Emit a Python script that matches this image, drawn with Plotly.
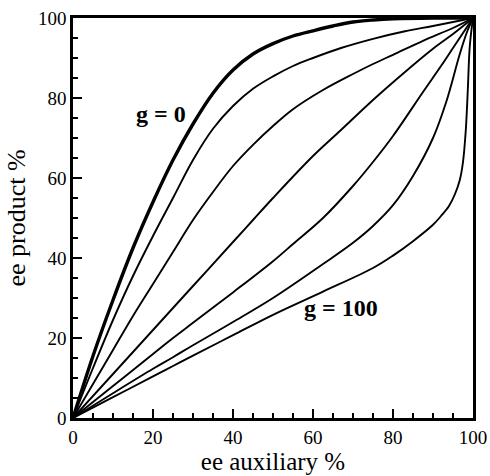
import plotly.graph_objects as go

# ---- curves (ee auxiliary %, ee product %) ----
g0_x = [0, 5, 10, 15, 20, 25, 30, 35, 40, 45, 50, 55, 60, 65, 70, 75, 80, 90, 100]
g0_y = [0, 15.5, 29.5, 42.5, 54, 64.5, 73.5, 81.2, 87, 91, 93.6, 95.5, 96.8, 98, 99, 99.5, 99.8, 100, 100]

c2_x = [0, 5, 10, 15, 20, 25, 30, 35, 40, 45, 50, 55, 60, 67, 75, 83, 90, 100]
c2_y = [0, 12.5, 24.5, 35.5, 45.5, 55, 64.5, 72.3, 78, 82.3, 85.4, 88, 90, 92.5, 94.8, 96.7, 98, 100]

c3_x = [0, 5, 10, 15, 20, 25, 30, 35, 40, 45, 50, 55, 62.5, 70, 75, 80, 87.5, 95, 100]
c3_y = [0, 8.5, 17, 25.5, 33.5, 41.5, 49.5, 56.5, 63, 68.3, 73, 77.2, 82, 86, 88.5, 90.8, 94.3, 97.5, 100]

c4_x = [0, 10, 20, 30, 40, 45, 50, 60, 67, 75, 83, 90, 95, 100]
c4_y = [0, 11, 22, 33, 44, 49.5, 55, 65.5, 72, 79.5, 86.5, 92.3, 96, 100]

c5_x = [0, 10, 20, 25, 30, 40, 50, 55, 62.5, 70, 75, 80, 87.5, 92, 95, 100]
c5_y = [0, 8, 16, 20, 23.8, 31.4, 39.2, 43.5, 50, 58, 64, 70.5, 81.5, 88, 92.5, 100]

c6_x = [0, 10, 20, 25, 30, 40, 50, 62.5, 70, 75, 80, 85, 90, 93.3, 96.7, 98.5, 100]
c6_y = [0, 6.2, 12.3, 15.2, 18.2, 24, 30, 38.5, 43.8, 48, 53.2, 60.5, 70, 79, 91, 96.5, 100]

g100_x = [0, 10, 20, 25, 30, 40, 50, 62.5, 75, 80, 85, 90, 92, 94, 95.5, 96.7, 97.5, 98.2, 98.7, 99.2, 100]
g100_y = [0, 5.2, 10.4, 13, 15.6, 20.7, 25.8, 31.6, 37.5, 40.6, 44.2, 48.3, 50.5, 53, 56, 59.5, 64, 72, 82, 93, 100]

tick_vals = [0, 20, 40, 60, 80, 100]

FONT = 'Liberation Serif'

fig = go.Figure()

curves = [
    (g0_x, g0_y, 3.4),
    (c2_x, c2_y, 1.9),
    (c3_x, c3_y, 1.9),
    (c4_x, c4_y, 1.9),
    (c5_x, c5_y, 1.9),
    (c6_x, c6_y, 1.9),
    (g100_x, g100_y, 1.9),
]
for xs, ys, w in curves:
    fig.add_trace(go.Scatter(
        x=xs, y=ys, mode='lines',
        line=dict(color='black', width=w, shape='spline', smoothing=1.0),
        showlegend=False, hoverinfo='skip'
    ))

fig.add_annotation(x=21.9, y=76, text='<b>g = 0</b>', showarrow=False,
                   font=dict(family=FONT, size=24, color='black'))
fig.add_annotation(x=67, y=27.5, text='<b>g = 100</b>', showarrow=False,
                   font=dict(family=FONT, size=24, color='black'))

axis_common = dict(
    range=[0, 100],
    tickvals=tick_vals,
    ticks='inside', ticklen=9, tickwidth=2, tickcolor='black',
    minor=dict(dtick=5, ticks='inside', ticklen=5, tickwidth=1.5, tickcolor='black'),
    showline=True, linewidth=2.5, linecolor='black', mirror=True,
    showgrid=False, zeroline=False, automargin=False,
    ticklabeloverflow='allow',
    tickfont=dict(family=FONT, size=19, color='black'),
)

fig.update_xaxes(**axis_common,
                 title=dict(text='ee auxiliary %', standoff=2,
                            font=dict(family=FONT, size=25, color='black')))
fig.update_yaxes(**axis_common,
                 title=dict(text='ee product %', standoff=5,
                            font=dict(family=FONT, size=26, color='black')))

fig.update_layout(
    width=490, height=476,
    paper_bgcolor='white', plot_bgcolor='white',
    margin=dict(l=73, r=17, t=18, b=58),
    font=dict(family=FONT, color='black'),
)

# drop the browser's default 8px body margin so the figure fills the window
fig.write_html("out.html", config={'displayModeBar': False},
               post_script="document.body.style.margin='0';document.body.style.overflow='hidden';")
